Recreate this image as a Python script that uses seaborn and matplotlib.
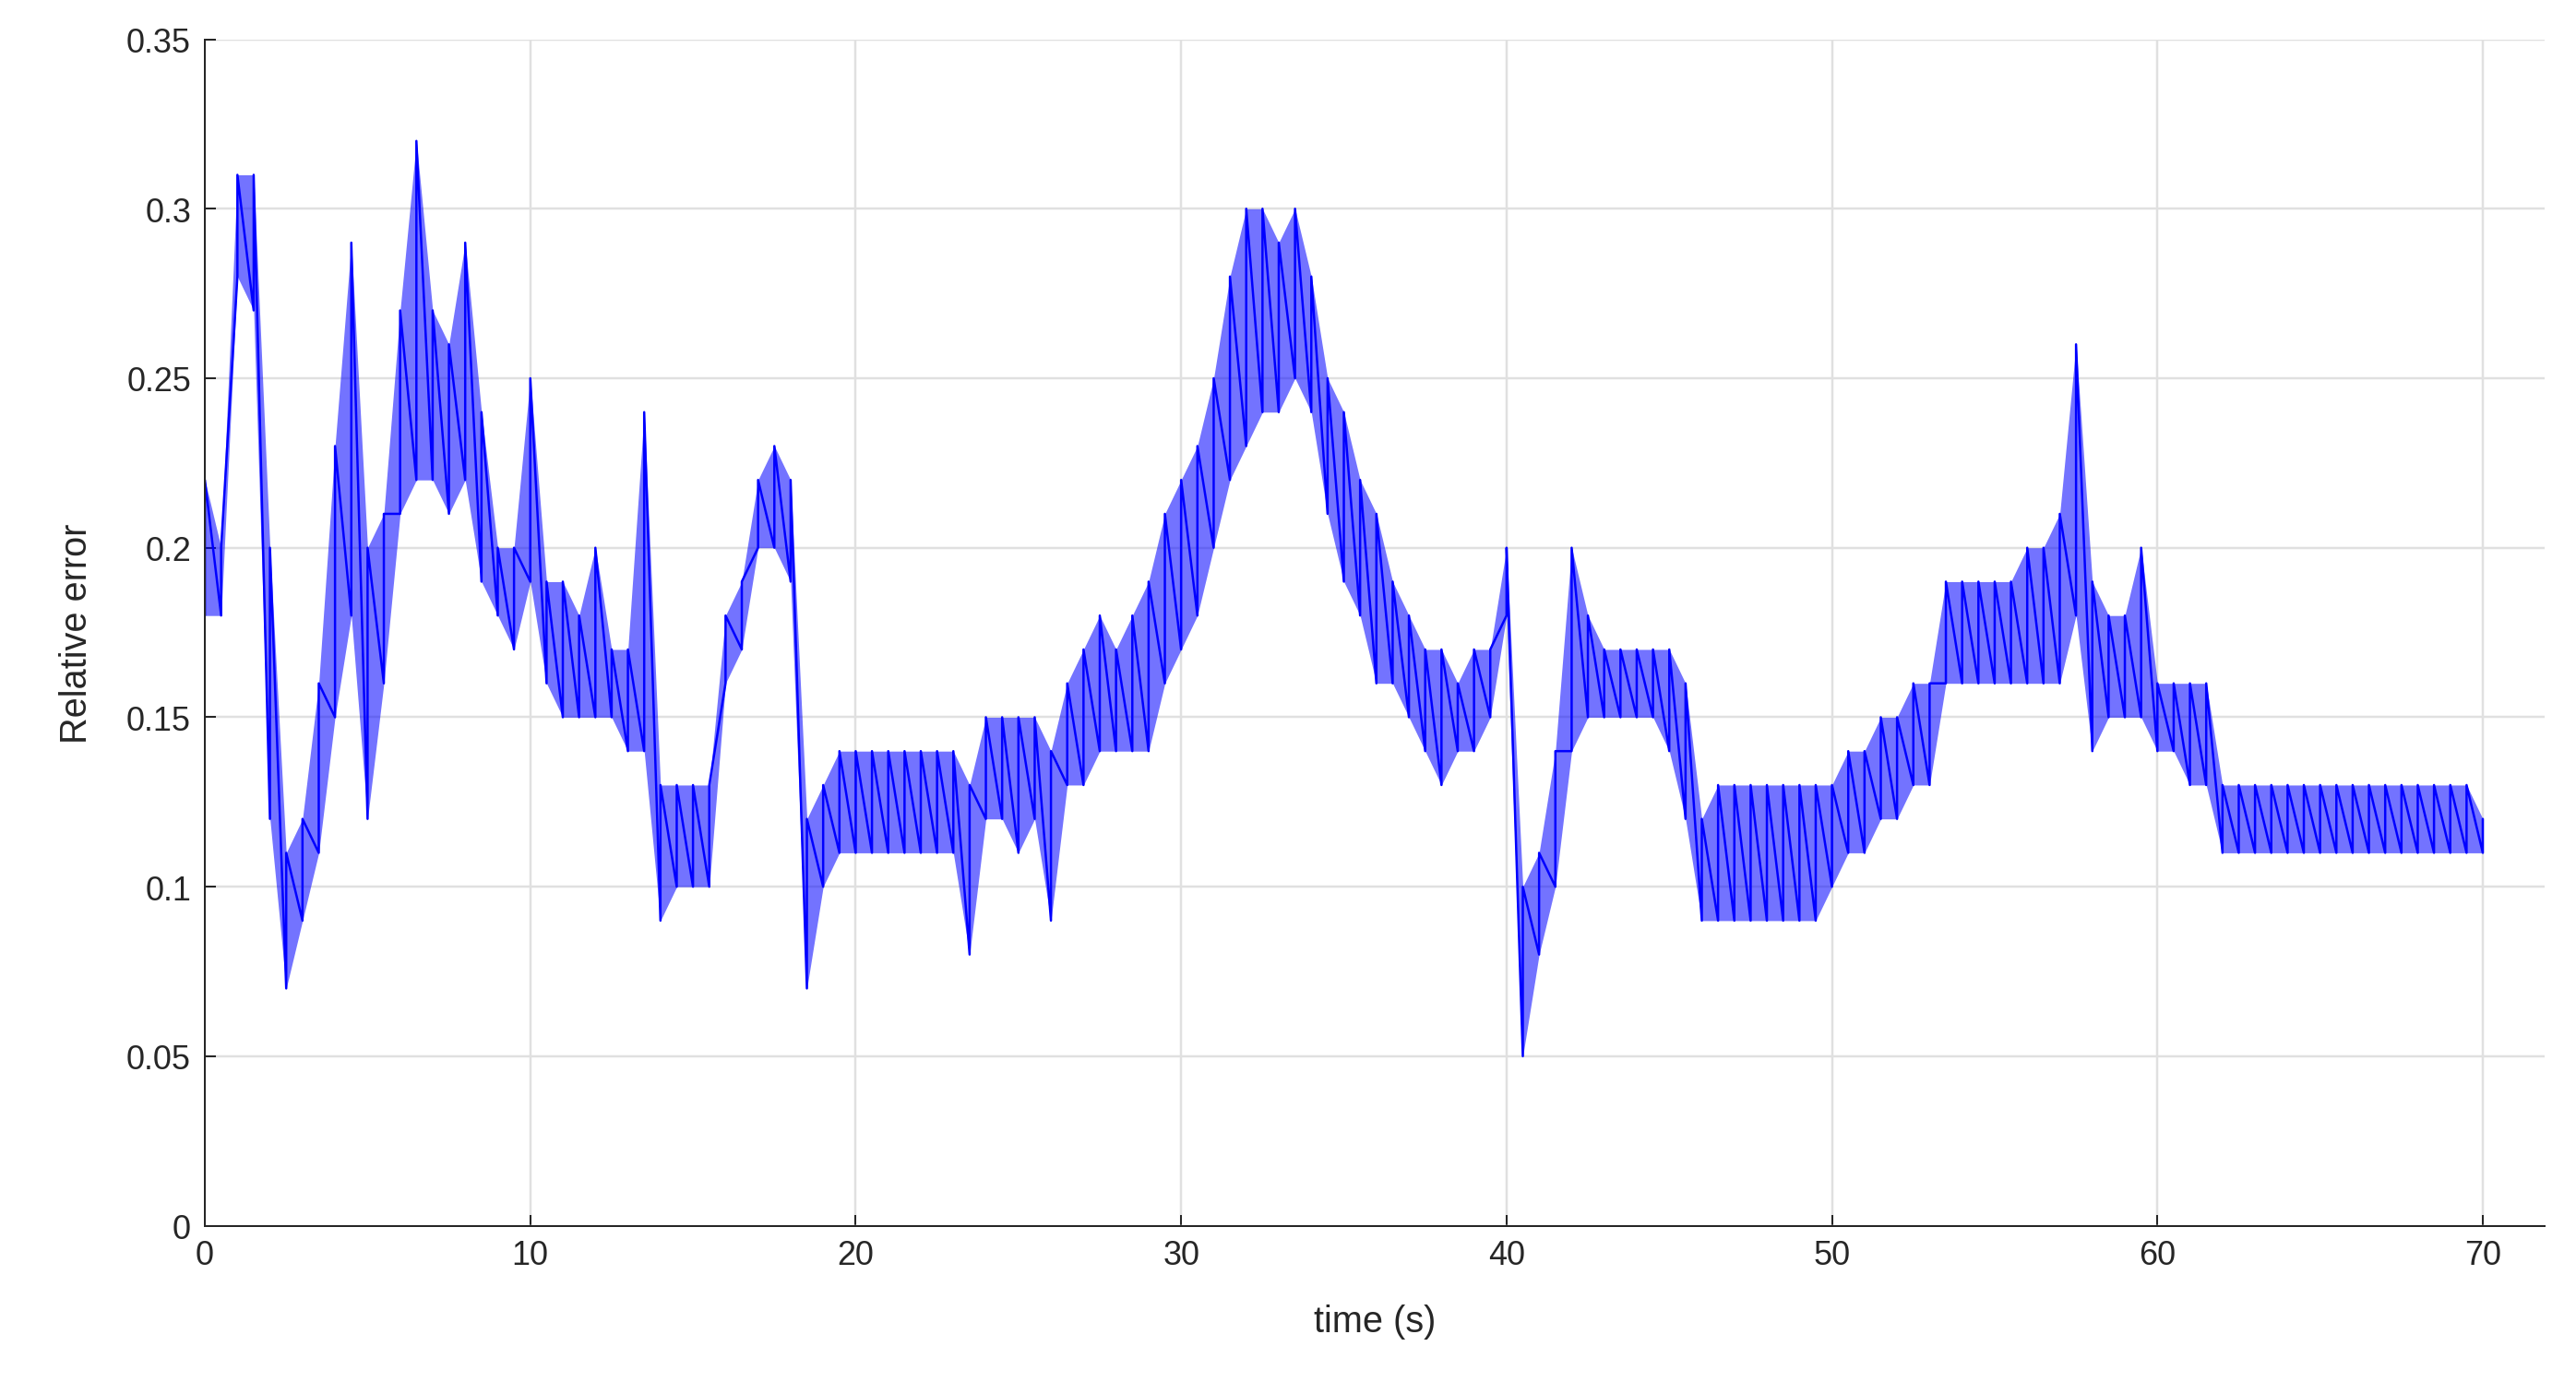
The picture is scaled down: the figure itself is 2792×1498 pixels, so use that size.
import numpy as np
import pandas as pd
import seaborn as sns
import matplotlib.pyplot as plt

# band of the noisy signal, read every 0.5 s (lower / upper edge)
time_s = np.arange(0, 70.5, 0.5)
err_lo = [.18, .18, .28, .27, .12, .07, .09, .11, .15, .18,
          .12, .16, .21, .22, .22, .21, .22, .19, .18, .17,
          .19, .16, .15, .15, .15, .15, .14, .14, .09, .10,
          .10, .10, .16, .17, .20, .20, .19, .07, .10, .11,
          .11, .11, .11, .11, .11, .11, .11, .08, .12, .12,
          .11, .12, .09, .13, .13, .14, .14, .14, .14, .16,
          .17, .18, .20, .22, .23, .24, .24, .25, .24, .21,
          .19, .18, .16, .16, .15, .14, .13, .14, .14, .15,
          .18, .05, .08, .10, .14, .15, .15, .15, .15, .15,
          .14, .12, .09, .09, .09, .09, .09, .09, .09, .09,
          .10, .11, .11, .12, .12, .13, .13, .16, .16, .16,
          .16, .16, .16, .16, .16, .18, .14, .15, .15, .15,
          .14, .14, .13, .13, .11, .11, .11, .11, .11, .11,
          .11, .11, .11, .11, .11, .11, .11, .11, .11, .11, .11]
err_hi = [.22, .20, .31, .31, .20, .11, .12, .16, .23, .29,
          .20, .21, .27, .32, .27, .26, .29, .24, .20, .20,
          .25, .19, .19, .18, .20, .17, .17, .24, .13, .13,
          .13, .13, .18, .19, .22, .23, .22, .12, .13, .14,
          .14, .14, .14, .14, .14, .14, .14, .13, .15, .15,
          .15, .15, .14, .16, .17, .18, .17, .18, .19, .21,
          .22, .23, .25, .28, .30, .30, .29, .30, .28, .25,
          .24, .22, .21, .19, .18, .17, .17, .16, .17, .17,
          .20, .10, .11, .14, .20, .18, .17, .17, .17, .17,
          .17, .16, .12, .13, .13, .13, .13, .13, .13, .13,
          .13, .14, .14, .15, .15, .16, .16, .19, .19, .19,
          .19, .19, .20, .20, .21, .26, .19, .18, .18, .20,
          .16, .16, .16, .16, .13, .13, .13, .13, .13, .13,
          .13, .13, .13, .13, .13, .13, .13, .13, .13, .13, .12]

# zigzag between the two edges
x = np.repeat(time_s, 2)
y = np.ravel(np.column_stack([err_lo, err_hi]))
df = pd.DataFrame({"t": x, "err": y})

sns.set_style("ticks")
plt.rcParams['font.family'] = ['Liberation Sans', 'DejaVu Sans']

fig = plt.figure(figsize=(15.603, 8.374), dpi=179)
ax = fig.add_axes([0.0795, 0.113, 0.908, 0.858])
# dense band between the edges, then the zigzag on top
ax.fill_between(time_s, err_lo, err_hi, color="#0000ff", alpha=0.55, lw=0)
sns.lineplot(data=df, x="t", y="err", sort=False, estimator=None,
             color="#0000ff", lw=1.0, ax=ax)

ax.set_xlim(0, 71.9)
ax.set_ylim(0, 0.35)
ax.set_xticks(range(0, 71, 10))
ax.set_yticks(np.arange(0, 0.351, 0.05))
ax.set_yticklabels(["0", "0.05", "0.1", "0.15", "0.2", "0.25", "0.3", "0.35"])
ax.grid(True, color="#e0e0e0", lw=1.0)
ax.set_axisbelow(True)
for s in ["top", "right"]:
    ax.spines[s].set_visible(False)
for s in ["left", "bottom"]:
    ax.spines[s].set_color("#262626")
ax.tick_params(direction="in", labelsize=14.5, colors="#262626", length=5, pad=6)
ax.set_xlabel("time (s)", fontsize=16, color="#262626", labelpad=14)
ax.set_ylabel("Relative error", fontsize=16, color="#262626", labelpad=14)

fig.savefig("out.png", dpi=179)
